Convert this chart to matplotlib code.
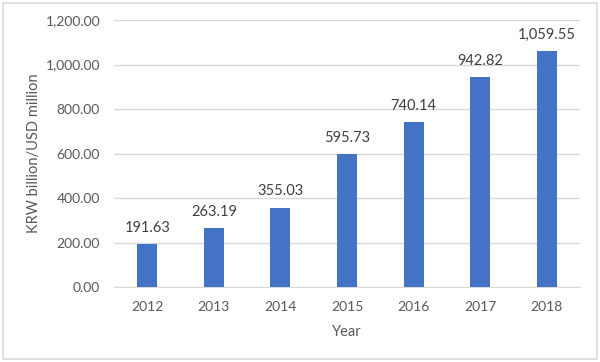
import matplotlib
matplotlib.use("Agg")
import matplotlib.pyplot as plt
from matplotlib.patches import Rectangle

years = ["2012", "2013", "2014", "2015", "2016", "2017", "2018"]
values = [191.63, 263.19, 355.03, 595.73, 740.14, 942.82, 1059.55]
yticks = [0, 200, 400, 600, 800, 1000, 1200]

plt.rcParams['font.family'] = ['Lato', 'DejaVu Sans']
txt = '#595959'

fig = plt.figure(figsize=(6, 3.62), dpi=100)
ax = fig.add_axes([114/600, 1-287/362, 466/600, 267/362])

x = list(range(len(years)))
ax.bar(x, values, width=0.3, color='#4472C4', zorder=3)
for xi, v in zip(x, values):
    ax.annotate(f"{v:,.2f}", (xi, v), xytext=(0, 7), textcoords='offset points',
                ha='center', va='bottom', fontsize=10.5, color='#404040')

ax.set_xlim(-0.5, len(years) - 0.5)
ax.set_ylim(0, 1200)
ax.set_yticks(yticks)
ax.set_yticklabels([f"{t:,.2f}" for t in yticks])
ax.set_xticks(x)
ax.set_xticklabels(years)
ax.tick_params(axis='y', length=0, labelsize=10, labelcolor=txt, pad=10)
ax.tick_params(axis='x', length=0, labelsize=10, labelcolor=txt, pad=10)
ax.grid(axis='y', color='#d9d9d9', linewidth=1, zorder=0)
for s in ['top', 'right', 'left']:
    ax.spines[s].set_visible(False)
ax.spines['bottom'].set_color('#d9d9d9')
ax.set_xlabel("Year", fontsize=10.5, color=txt, labelpad=9)
ax.set_ylabel("KRW billion/USD million", fontsize=10.5, color=txt, labelpad=3)

fig.patches.append(Rectangle((3/600, 3/362), 594/600, 356/362, transform=fig.transFigure,
                             fill=False, edgecolor='#d9d9d9', linewidth=1.2))

fig.savefig("out.png", dpi=100)
